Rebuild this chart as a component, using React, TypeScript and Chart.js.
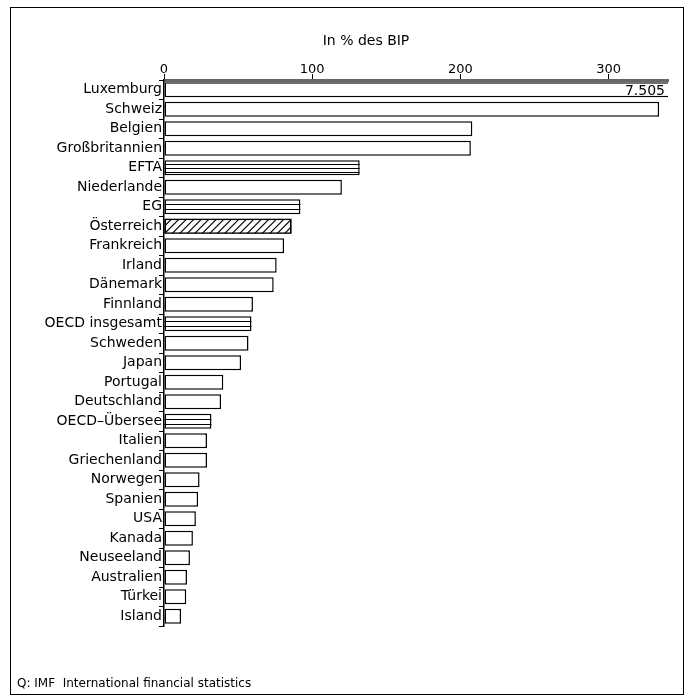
import React, { useEffect, useRef } from "react";
import { Chart, registerables } from "chart.js";

Chart.register(...registerables);

const categories = [
  "Luxemburg", "Schweiz", "Belgien", "Großbritannien", "EFTA", "Niederlande", "EG",
  "Österreich", "Frankreich", "Irland", "Dänemark", "Finnland", "OECD insgesamt",
  "Schweden", "Japan", "Portugal", "Deutschland", "OECD–Übersee", "Italien",
  "Griechenland", "Norwegen", "Spanien", "USA", "Kanada", "Neuseeland",
  "Australien", "Türkei", "Island",
];
const values = [
  7505, 334, 208, 207, 132, 120, 92, 86, 81, 76, 74, 60, 59, 57, 52, 40, 38.5,
  32, 29, 29, 24, 23, 21.5, 19.5, 17.5, 15.5, 15, 11.5,
];
// fill style per category
const fills = [
  "", "", "", "", "h3", "", "h2", "diag", "", "", "", "", "h2", "", "", "", "",
  "h2", "", "", "", "", "", "", "", "", "", "",
];
const xTicks = [0, 100, 200, 300];
const xMax = 340;
const titleText = "In % des BIP";
const sourceText = "Q: IMF  International financial statistics";
const overflowLabel = "7.505";

const FONT = "'DejaVu Sans', sans-serif";

export default function App() {
  const ref = useRef<HTMLCanvasElement | null>(null);

  useEffect(() => {
    if (!ref.current) return;
    const decor = {
      id: "decor",
      afterDatasetsDraw(chart: any) {
        const ctx = chart.ctx;
        const meta = chart.getDatasetMeta(0);
        const area = chart.chartArea;
        ctx.save();
        ctx.beginPath();
        ctx.rect(area.left, area.top, area.right - area.left, area.bottom - area.top);
        ctx.clip();
        ctx.strokeStyle = "#000";
        ctx.lineWidth = 1.2;
        meta.data.forEach((bar: any, i: number) => {
          const f = fills[i];
          if (!f) return;
          const x0 = Math.min(bar.base, bar.x);
          const x1 = Math.max(bar.base, bar.x);
          const h = bar.height;
          const y0 = bar.y - h / 2;
          ctx.beginPath();
          if (f === "h3" || f === "h2") {
            const n = f === "h3" ? 3 : 2;
            for (let k = 1; k <= n; k++) {
              const yy = Math.round(y0 + (h * k) / (n + 1)) + 0.5;
              ctx.moveTo(x0, yy);
              ctx.lineTo(x1, yy);
            }
          } else if (f === "diag") {
            ctx.save();
            ctx.rect(x0, y0, x1 - x0, h);
            ctx.clip();
            for (let xx = x0 - h; xx < x1 + h; xx += 7.5) {
              ctx.moveTo(xx, y0 + h);
              ctx.lineTo(xx + h, y0);
            }
            ctx.stroke();
            ctx.restore();
            return;
          }
          ctx.stroke();
        });
        ctx.restore();

        // overflow label
        const b0: any = meta.data[0];
        ctx.save();
        ctx.fillStyle = "#000";
        ctx.font = `14px ${FONT}`;
        ctx.textAlign = "right";
        ctx.textBaseline = "middle";
        ctx.fillText(overflowLabel, area.right - 3, b0.y + 2);
        ctx.restore();
      },
      afterDraw(chart: any) {
        const ctx = chart.ctx;
        ctx.save();
        ctx.fillStyle = "#000";
        ctx.font = `14px ${FONT}`;
        ctx.textAlign = "center";
        ctx.textBaseline = "middle";
        ctx.fillText(titleText, 355, 33);
        ctx.font = `12px ${FONT}`;
        ctx.textAlign = "left";
        ctx.fillText(sourceText, 6, 676);
        ctx.restore();
      },
    };

    const chart = new Chart(ref.current, {
      type: "bar",
      data: {
        labels: categories,
        datasets: [
          {
            data: values,
            backgroundColor: "#fff",
            borderColor: "#000",
            borderWidth: 1.5,
            borderSkipped: false,
            categoryPercentage: 0.78,
            barPercentage: 1,
          },
        ],
      },
      options: {
        indexAxis: "y",
        responsive: false,
        animation: false,
        devicePixelRatio: 1,
        layout: { padding: { top: 30, right: 15, bottom: 68, left: 0 } },
        plugins: {
          legend: { display: false },
          tooltip: { enabled: false },
          title: { display: false },
        },
        scales: {
          x: {
            position: "top",
            min: 0,
            max: xMax,
            afterBuildTicks: (scale: any) => {
              scale.ticks = xTicks.map((v) => ({ value: v }));
            },
            afterFit: (scale: any) => {
              scale.height = 42;
            },
            grid: {
              drawOnChartArea: false,
              drawTicks: true,
              tickLength: 6,
              color: "#000",
              lineWidth: 1,
            },
            border: { display: true, color: "#666", width: 3 },
            ticks: {
              color: "#000",
              font: { family: FONT, size: 13 },
              padding: -3,
            },
          },
          y: {
            afterFit: (scale: any) => {
              scale.width = 153;
            },
            grid: {
              drawOnChartArea: false,
              drawTicks: true,
              tickLength: 5,
              color: "#000",
              offset: true,
            },
            border: { display: true, color: "#000", width: 1.5 },
            ticks: {
              color: "#000",
              font: { family: FONT, size: 14 },
              padding: -3,
              autoSkip: false,
            },
          },
        },
      },
      plugins: [decor],
    } as any);
    return () => chart.destroy();
  }, []);

  return (
    <div
      style={{
        position: "absolute",
        left: 10,
        top: 7,
        width: 672,
        height: 686,
        border: "1px solid #000",
        background: "#fff",
      }}
    >
      <canvas ref={ref} width={672} height={686} style={{ display: "block" }} />
    </div>
  );
}
